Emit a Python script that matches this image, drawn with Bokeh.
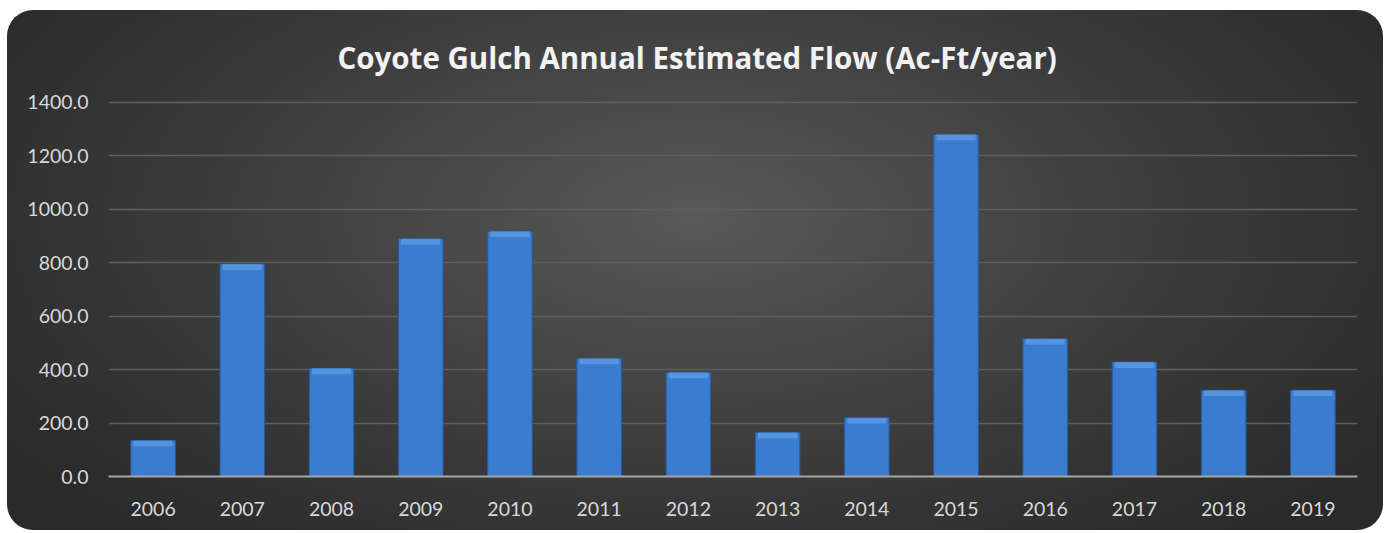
from bokeh.plotting import figure
from bokeh.models import ColumnDataSource, NumeralTickFormatter, FixedTicker
from bokeh.embed import file_html
from bokeh.resources import INLINE

years = ["2006", "2007", "2008", "2009", "2010", "2011", "2012",
         "2013", "2014", "2015", "2016", "2017", "2018", "2019"]
flow = [135, 795, 405, 890, 918, 442, 390, 165, 220, 1280, 515, 428, 323, 323]
y_ticks = [0, 200, 400, 600, 800, 1000, 1200, 1400]

bevel = [max(v - 22, 0) for v in flow]
src = ColumnDataSource(dict(year=years, flow=flow, bevel=bevel))

p = figure(x_range=years, y_range=(0, 1407), width=1376, height=520,
           output_backend="svg", toolbar_location=None,
           title="Coyote Gulch Annual Estimated Flow (Ac-Ft/year)")
p.margin = (10, 7, 3, 7)
p.styles = {"background": "radial-gradient(ellipse 60% 80% at 50% 40%, #595959 0%, #3f3f3f 50%, #2a2a2a 100%)",
            "border-radius": "26px", "overflow": "hidden"}
p.background_fill_color = None
p.border_fill_color = None
p.outline_line_color = None
p.min_border_left = 101
p.min_border_right = 26
p.min_border_top = 90
p.min_border_bottom = 54

p.title.align = "left"
p.title.text_font = "Open Sans"
p.title.text_font_size = "29.5px"
p.title.text_font_style = "bold"
p.title.text_color = "#f2f2f2"
p.title.standoff = 45
p.title.offset = 229

p.vbar(x="year", top="flow", width=0.5, source=src,
       fill_color="#3a7cd0", line_color="#285998", line_width=1)
p.vbar(x="year", top="flow", bottom="bevel", width=0.44, source=src,
       fill_color="#6aa7ec", line_color=None, fill_alpha=0.55)

p.xgrid.grid_line_color = None
p.ygrid.grid_line_color = "#5e5e5e"
p.ygrid.grid_line_width = 1.5
p.yaxis.ticker = FixedTicker(ticks=y_ticks)
p.yaxis.formatter = NumeralTickFormatter(format="0.0")

for ax in (p.xaxis[0], p.yaxis[0]):
    ax.major_tick_line_color = None
    ax.minor_tick_line_color = None
    ax.major_label_text_font = "Lato"
    ax.major_label_text_font_size = "19.5px"
    ax.major_label_text_color = "#d9d9d9"
p.yaxis.axis_line_color = None
p.yaxis.major_label_standoff = 14
p.xaxis.axis_line_color = "#a6a6a6"
p.xaxis.axis_line_width = 2
p.xaxis.major_label_standoff = 19

open("out.html", "w").write(file_html(p, INLINE))
